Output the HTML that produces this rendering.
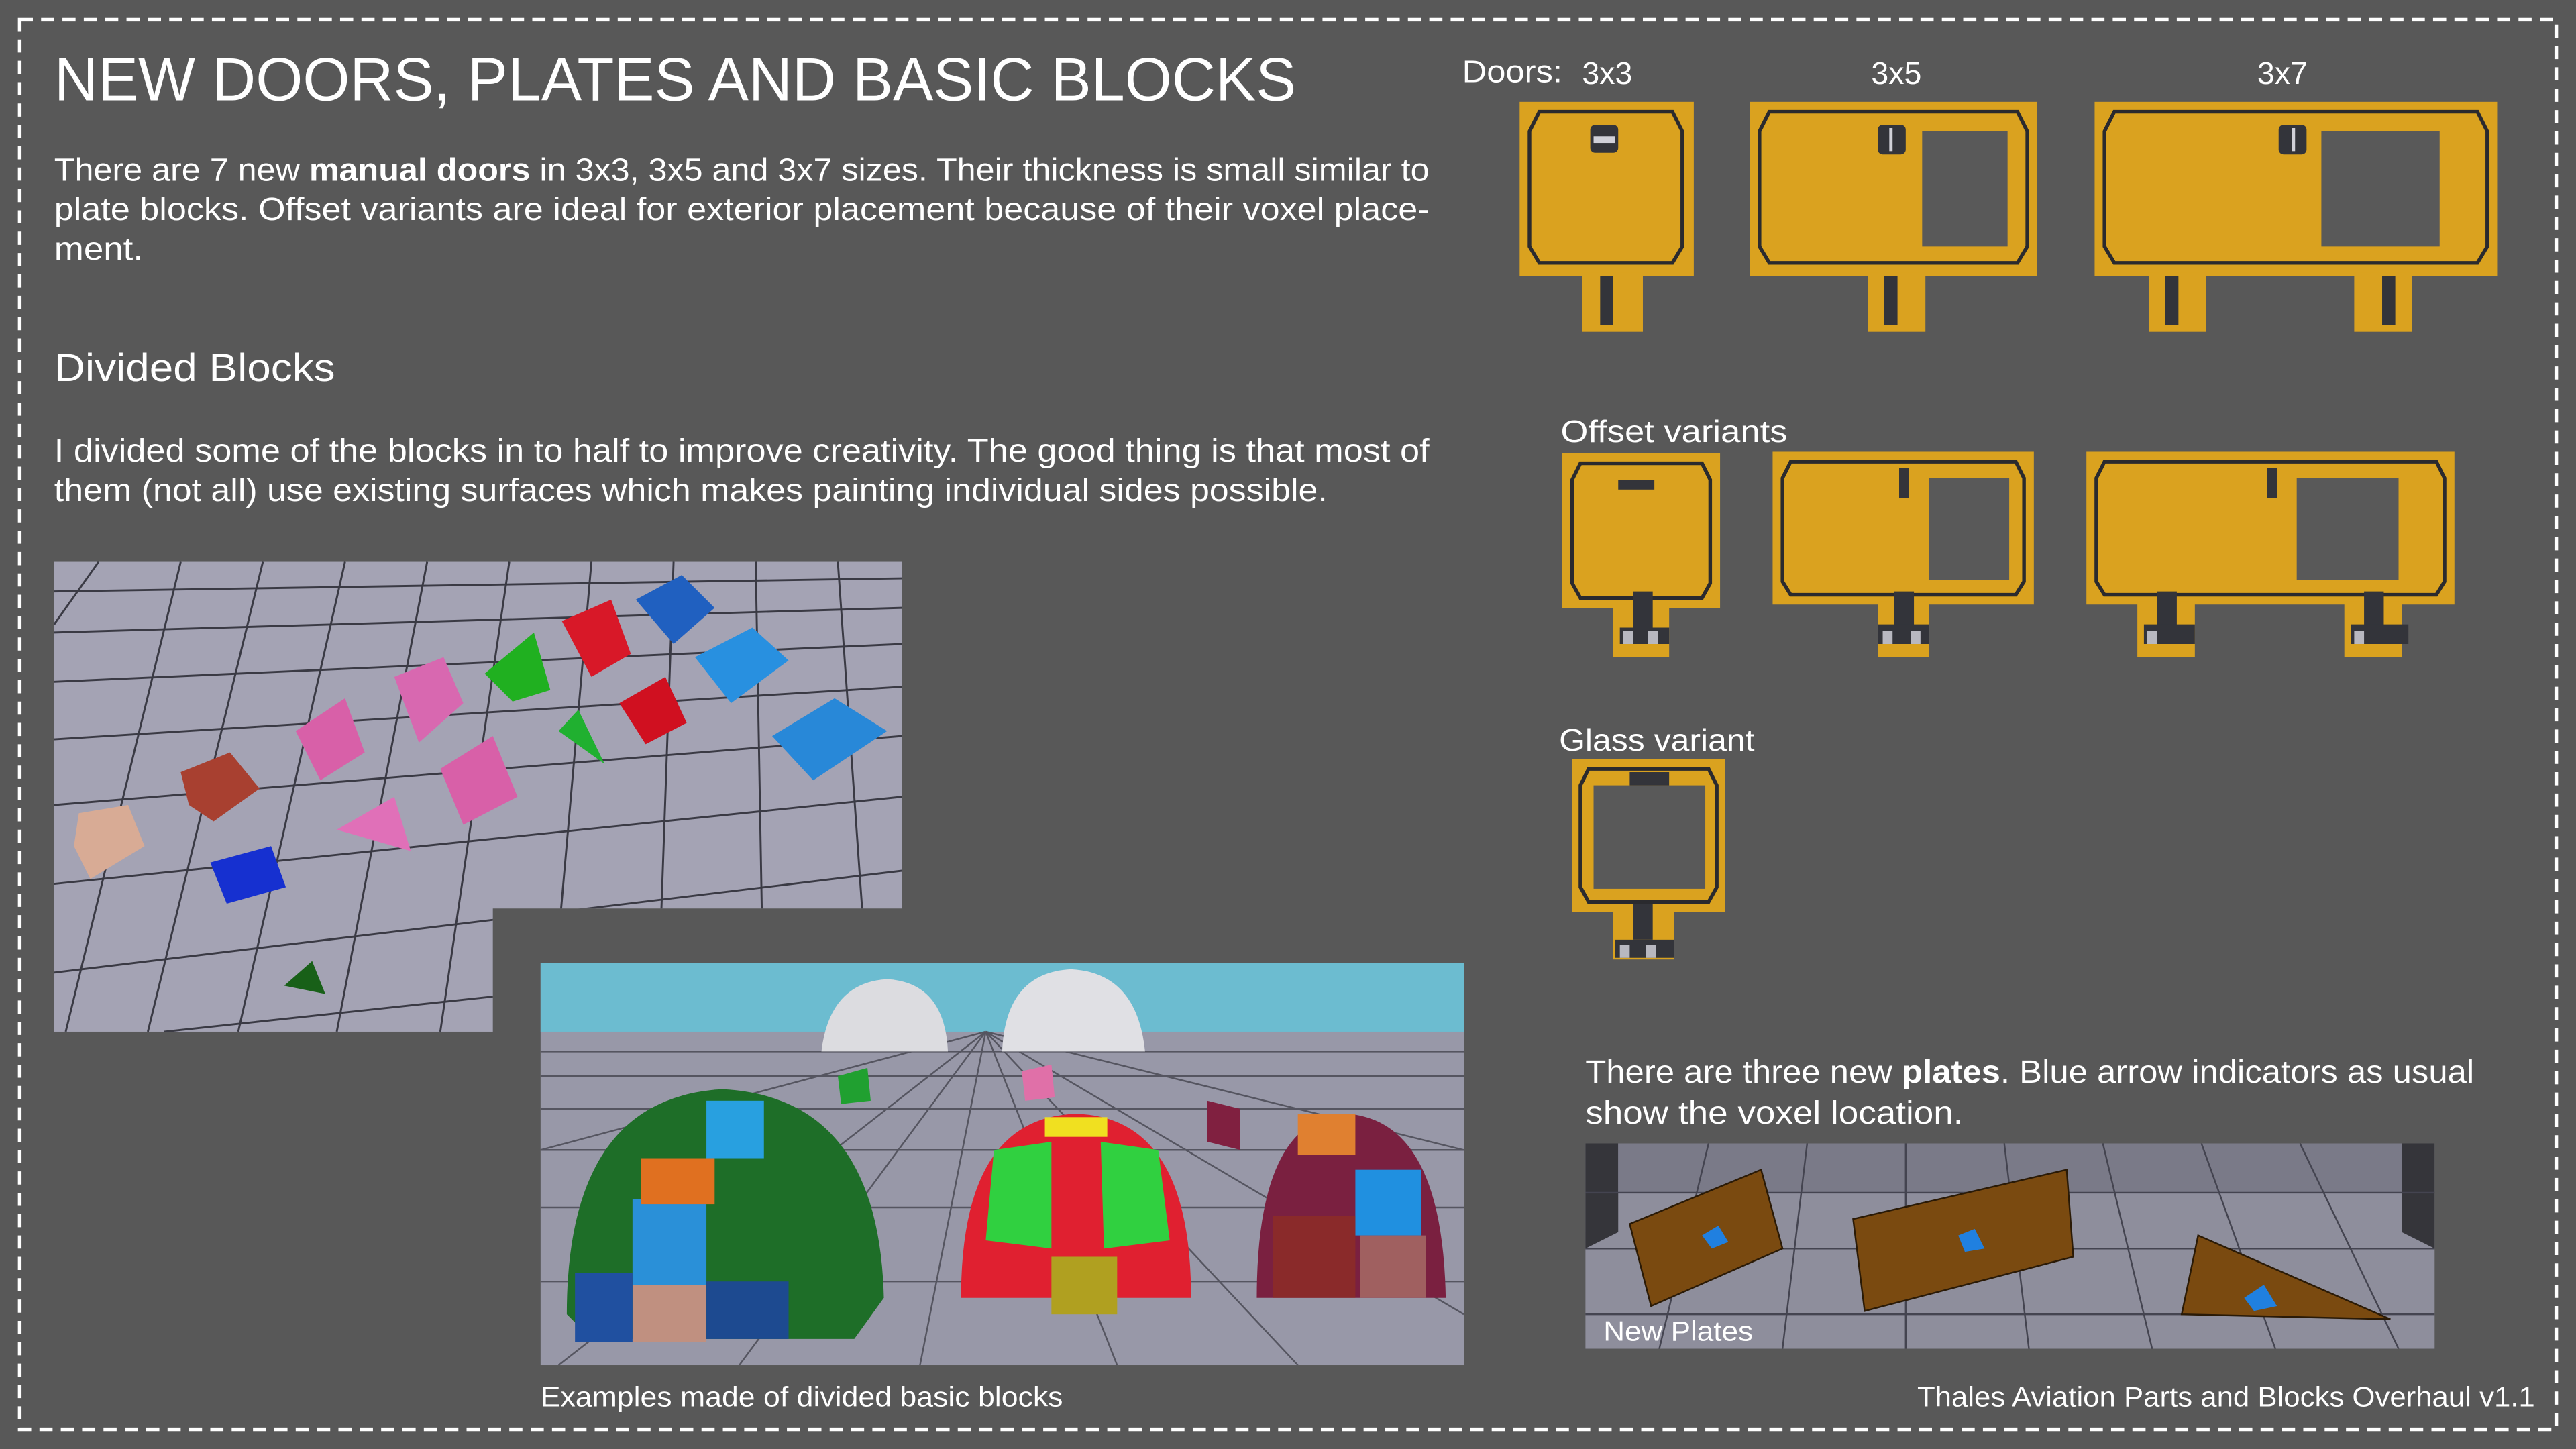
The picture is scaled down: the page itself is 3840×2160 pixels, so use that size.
<!DOCTYPE html>
<html><head><meta charset="utf-8"><style>
html,body{margin:0;padding:0;background:#585858;}
svg{display:block}
text{font-family:"Liberation Sans",sans-serif;fill:#fff}
</style></head><body>
<svg width="3840" height="2160" viewBox="0 0 1568 882" xmlns="http://www.w3.org/2000/svg">
<rect width="1568" height="882" fill="#585858"/>
<rect x="12" y="12" width="1544" height="858" fill="none" stroke="#fff" stroke-width="2.2" stroke-dasharray="8,5"/>

<text x="33" y="61" font-size="37" textLength="756" lengthAdjust="spacingAndGlyphs">NEW DOORS, PLATES AND BASIC BLOCKS</text>
<text x="33" y="110" font-size="19.5" textLength="837" lengthAdjust="spacingAndGlyphs">There are 7 new <tspan font-weight="bold">manual doors</tspan> in 3x3, 3x5 and 3x7 sizes. Their thickness is small similar to</text>
<text x="33" y="134" font-size="19.5" textLength="837" lengthAdjust="spacingAndGlyphs">plate blocks. Offset variants are ideal for exterior placement because of their voxel place-</text>
<text x="33" y="158" font-size="19.5" textLength="54" lengthAdjust="spacingAndGlyphs">ment.</text>
<text x="33" y="232" font-size="24" textLength="171" lengthAdjust="spacingAndGlyphs">Divided Blocks</text>
<text x="33" y="281" font-size="19.5" textLength="837" lengthAdjust="spacingAndGlyphs">I divided some of the blocks in to half to improve creativity. The good thing is that most of</text>
<text x="33" y="305" font-size="19.5" textLength="775" lengthAdjust="spacingAndGlyphs">them (not all) use existing surfaces which makes painting individual sides possible.</text>

<defs>
<clipPath id="c1"><polygon points="33,342 549,342 549,553 300,553 300,628 33,628"/></clipPath>
<clipPath id="c2"><rect x="329" y="586" width="562" height="245"/></clipPath>
<clipPath id="c3"><rect x="965" y="696" width="517" height="125"/></clipPath>
</defs>
<g clip-path="url(#c1)">
<rect x="33" y="342" width="516" height="286" fill="#a4a3b4"/>
<g stroke="#3a3a44" stroke-width="1.2">
<line x1="33" y1="360" x2="549" y2="352"/><line x1="33" y1="385" x2="549" y2="370"/><line x1="33" y1="415" x2="549" y2="392"/><line x1="33" y1="450" x2="549" y2="418"/><line x1="33" y1="490" x2="549" y2="448"/><line x1="33" y1="538" x2="549" y2="485"/><line x1="33" y1="592" x2="549" y2="530"/><line x1="100" y1="628" x2="549" y2="580"/>
<line x1="60" y1="342" x2="33" y2="380"/><line x1="110" y1="342" x2="40" y2="628"/><line x1="160" y1="342" x2="90" y2="628"/><line x1="210" y1="342" x2="145" y2="628"/><line x1="260" y1="342" x2="205" y2="628"/><line x1="310" y1="342" x2="268" y2="628"/><line x1="360" y1="342" x2="335" y2="628"/><line x1="410" y1="342" x2="400" y2="628"/><line x1="460" y1="342" x2="465" y2="628"/><line x1="510" y1="342" x2="530" y2="628"/>
</g>
<polygon points="48,495 78,490 88,515 55,535 45,515" fill="#d8ab95"/>
<polygon points="110,470 140,458 158,480 130,500 115,490" fill="#a84030"/>
<polygon points="128,525 165,515 174,540 138,550" fill="#1630d0"/>
<polygon points="180,445 210,425 222,458 195,475" fill="#d860a8"/>
<polygon points="240,412 270,400 282,428 255,452" fill="#d868b0"/>
<polygon points="268,468 300,448 315,485 282,502" fill="#d860a8"/>
<polygon points="205,505 240,485 250,518" fill="#e070b8"/>
<polygon points="295,410 325,385 335,420 312,427" fill="#20b020"/>
<polygon points="340,445 352,432 368,465" fill="#20b030"/>
<polygon points="342,378 372,365 384,398 360,412" fill="#d81828"/>
<polygon points="377,428 405,412 418,440 393,453" fill="#d01020"/>
<polygon points="387,365 415,350 435,370 410,392" fill="#2060c0"/>
<polygon points="423,400 458,382 480,402 445,428" fill="#2890e0"/>
<polygon points="470,448 508,425 540,445 495,475" fill="#2888d8"/>
<polygon points="173,600 190,585 198,605" fill="#186018"/>
</g>

<g clip-path="url(#c2)">
<rect x="329" y="586" width="562" height="245" fill="#9898a8"/>
<rect x="329" y="586" width="562" height="42" fill="#6cbcd0"/>
<g stroke="#555560" stroke-width="1">
<line x1="329" y1="640" x2="891" y2="640"/><line x1="329" y1="655" x2="891" y2="655"/><line x1="329" y1="675" x2="891" y2="675"/><line x1="329" y1="700" x2="891" y2="700"/><line x1="329" y1="735" x2="891" y2="735"/><line x1="329" y1="780" x2="891" y2="780"/>
<line x1="600" y1="628" x2="340" y2="831"/><line x1="600" y1="628" x2="450" y2="831"/><line x1="600" y1="628" x2="560" y2="831"/><line x1="600" y1="628" x2="680" y2="831"/><line x1="600" y1="628" x2="790" y2="831"/><line x1="600" y1="628" x2="891" y2="800"/><line x1="600" y1="628" x2="891" y2="700"/><line x1="600" y1="628" x2="329" y2="700"/>
</g>
<path d="M500,640 Q505,598 540,596 Q575,598 577,640 Z" fill="#dcdce0"/>
<path d="M610,640 Q612,592 652,590 Q692,592 697,640 Z" fill="#e0e0e4"/>
<path d="M345,800 Q345,668 440,663 Q535,668 538,790 L520,815 L360,815 Z" fill="#1e6e28"/>
<rect x="385" y="730" width="45" height="52" fill="#2a90d8"/>
<rect x="430" y="670" width="35" height="35" fill="#28a0e0"/>
<rect x="390" y="705" width="45" height="28" fill="#e07020"/>
<rect x="385" y="782" width="45" height="35" fill="#c09080"/>
<rect x="350" y="775" width="35" height="42" fill="#2050a0"/>
<rect x="430" y="780" width="50" height="35" fill="#1d4a90"/>
<path d="M585,790 Q585,680 655,678 Q725,680 725,790 Z" fill="#e02030"/>
<polygon points="605,700 640,695 640,760 600,755" fill="#30d040"/>
<polygon points="670,695 705,700 712,755 672,760" fill="#30d040"/>
<rect x="640" y="765" width="40" height="35" fill="#b0a020"/>
<rect x="636" y="680" width="38" height="12" fill="#f0e020"/>
<path d="M765,790 Q765,680 820,678 Q878,682 880,790 Z" fill="#7a2040"/>
<rect x="790" y="678" width="35" height="25" fill="#e08030"/>
<rect x="825" y="712" width="40" height="40" fill="#2090e0"/>
<rect x="775" y="740" width="50" height="50" fill="#8a2a2a"/>
<rect x="828" y="752" width="40" height="38" fill="#a06060"/>
<polygon points="510,655 528,650 530,670 512,672" fill="#20a030"/>
<polygon points="622,652 640,648 642,668 624,670" fill="#e070a8"/>
<polygon points="735,670 755,675 755,700 735,695" fill="#802040"/>
</g>
<text x="329" y="856" font-size="17" textLength="318" lengthAdjust="spacingAndGlyphs">Examples made of divided basic blocks</text>

<text x="890" y="50" font-size="19" textLength="61" lengthAdjust="spacingAndGlyphs">Doors:</text>
<text x="963" y="51" font-size="19">3x3</text>
<text x="1139" y="51" font-size="19">3x5</text>
<text x="1374" y="51" font-size="19">3x7</text>

<g fill="#daa21f">
<rect x="925" y="62" width="106" height="106"/><rect x="963" y="166" width="37" height="36"/>
<rect x="1065" y="62" width="175" height="106"/><rect x="1137" y="166" width="35" height="36"/>
<rect x="1275" y="62" width="245" height="106"/><rect x="1308" y="166" width="35" height="36"/><rect x="1433" y="166" width="35" height="36"/>
</g>
<g fill="none" stroke="#2a2a2e" stroke-width="2.2">
<polygon points="937,68 1018,68 1024,80 1024,150 1018,160 937,160 931,150 931,80"/>
<polygon points="1077,68 1228,68 1234,80 1234,150 1228,160 1077,160 1071,150 1071,80"/>
<polygon points="1287,68 1508,68 1514,80 1514,150 1508,160 1287,160 1281,150 1281,80"/>
</g>
<g fill="#595959">
<rect x="1170" y="80" width="52" height="70"/><rect x="1413" y="80" width="72" height="70"/>
</g>
<g fill="#33343a">
<rect x="968" y="76" width="17" height="17" rx="3"/><rect x="1143" y="76" width="17" height="18" rx="3"/><rect x="1387" y="76" width="17" height="18" rx="3"/>
<rect x="974" y="168" width="8" height="30"/><rect x="1147" y="168" width="8" height="30"/><rect x="1318" y="168" width="8" height="30"/><rect x="1450" y="168" width="8" height="30"/>
</g>
<g fill="#d0d0d8"><rect x="970" y="83" width="13" height="4"/><rect x="1150" y="78" width="2" height="14"/><rect x="1395" y="78" width="2" height="14"/></g>

<text x="950" y="269" font-size="19" textLength="138" lengthAdjust="spacingAndGlyphs">Offset variants</text>
<g fill="#daa21f">
<rect x="951" y="276" width="96" height="94"/><rect x="982" y="368" width="34" height="32"/>
<rect x="1079" y="275" width="159" height="93"/><rect x="1143" y="366" width="31" height="34"/>
<rect x="1270" y="275" width="224" height="93"/><rect x="1301" y="366" width="35" height="34"/><rect x="1427" y="366" width="35" height="34"/>
<rect x="957" y="462" width="93" height="93"/><rect x="982" y="553" width="37" height="31"/>
</g>
<g fill="none" stroke="#2a2a2e" stroke-width="2.2">
<polygon points="962,282 1036,282 1041,292 1041,355 1036,364 962,364 957,355 957,292"/>
<polygon points="1090,281 1227,281 1232,291 1232,354 1227,362 1090,362 1085,354 1085,291"/>
<polygon points="1281,281 1483,281 1488,291 1488,354 1483,362 1281,362 1276,354 1276,291"/>
<polygon points="967,468 1040,468 1045,478 1045,540 1040,549 967,549 962,540 962,478"/>
</g>
<g fill="#595959">
<rect x="1174" y="291" width="49" height="62"/><rect x="1398" y="291" width="62" height="62"/>
<rect x="970" y="478" width="68" height="63"/>
</g>
<g fill="#33343a">
<rect x="985" y="292" width="22" height="6"/><rect x="1156" y="285" width="6" height="18"/><rect x="1380" y="285" width="6" height="18"/>
<rect x="992" y="470" width="24" height="8"/>
<rect x="994" y="360" width="12" height="22"/><rect x="1153" y="360" width="12" height="22"/><rect x="1313" y="360" width="12" height="22"/><rect x="1439" y="360" width="12" height="22"/><rect x="994" y="550" width="12" height="22"/>
<polygon points="986,382 1016,382 1016,392 986,392"/><polygon points="1143,380 1174,380 1174,392 1143,392"/><polygon points="1305,380 1336,380 1336,392 1305,392"/><polygon points="1431,380 1466,380 1466,392 1431,392"/><polygon points="983,572 1019,572 1019,583 983,583"/>
</g>
<g fill="#b8b8c0"><rect x="988" y="384" width="6" height="8"/><rect x="1003" y="384" width="6" height="8"/><rect x="1146" y="384" width="6" height="8"/><rect x="1163" y="384" width="6" height="8"/><rect x="1307" y="384" width="6" height="8"/><rect x="1433" y="384" width="6" height="8"/><rect x="986" y="575" width="6" height="8"/><rect x="1002" y="575" width="6" height="8"/></g>
<text x="949" y="457" font-size="19" textLength="119" lengthAdjust="spacingAndGlyphs">Glass variant</text>

<text x="965" y="659" font-size="19.5" textLength="541" lengthAdjust="spacingAndGlyphs">There are three new <tspan font-weight="bold">plates</tspan>. Blue arrow indicators as usual</text>
<text x="965" y="684" font-size="19.5" textLength="230" lengthAdjust="spacingAndGlyphs">show the voxel location.</text>
<g clip-path="url(#c3)">
<rect x="965" y="696" width="517" height="125" fill="#8e8e9c"/>
<polygon points="965,696 985,696 985,750 965,760" fill="#35353a"/>
<polygon points="1462,696 1482,696 1482,760 1462,750" fill="#35353a"/>
<rect x="985" y="696" width="477" height="30" fill="#7a7a88"/>
<g stroke="#444450" stroke-width="1">
<line x1="965" y1="726" x2="1482" y2="726"/><line x1="965" y1="760" x2="1482" y2="760"/><line x1="965" y1="800" x2="1482" y2="800"/>
<line x1="1040" y1="696" x2="1010" y2="821"/><line x1="1100" y1="696" x2="1085" y2="821"/><line x1="1160" y1="696" x2="1160" y2="821"/><line x1="1220" y1="696" x2="1235" y2="821"/><line x1="1280" y1="696" x2="1310" y2="821"/><line x1="1340" y1="696" x2="1385" y2="821"/><line x1="1400" y1="696" x2="1460" y2="821"/>
</g>
<polygon points="992,745 1072,712 1085,760 1005,795" fill="#7a4a10" stroke="#2a1a06"/>
<polygon points="1128,742 1258,712 1262,765 1135,798" fill="#7a4a10" stroke="#2a1a06"/>
<polygon points="1338,752 1455,803 1328,800" fill="#7a4a10" stroke="#2a1a06"/>
<polygon points="1036,752 1046,746 1052,756 1042,760" fill="#2080e0"/>
<polygon points="1192,752 1202,748 1208,760 1196,762" fill="#2080e0"/>
<polygon points="1366,790 1378,782 1386,795 1372,798" fill="#2080e0"/>
</g>
<text x="976" y="816" font-size="17" textLength="91" lengthAdjust="spacingAndGlyphs">New Plates</text>
<text x="1167" y="856" font-size="17" textLength="376" lengthAdjust="spacingAndGlyphs">Thales Aviation Parts and Blocks Overhaul v1.1</text>
</svg>
</body></html>
